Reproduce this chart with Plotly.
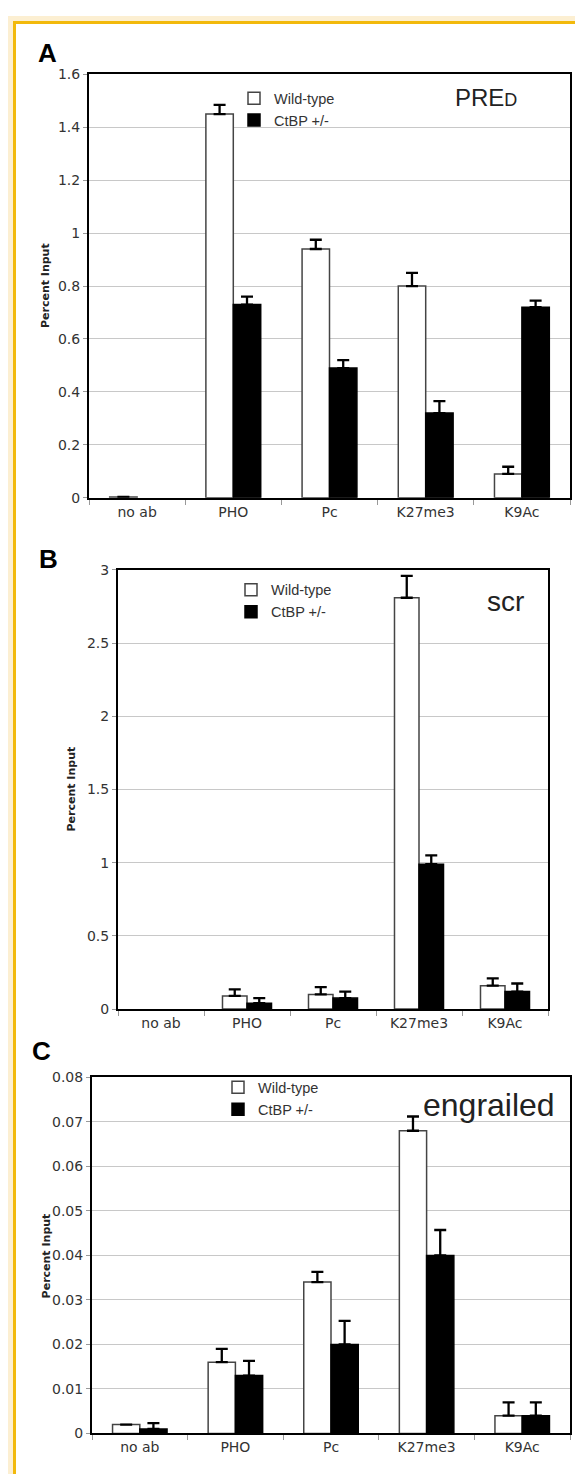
import plotly.graph_objects as go

W, H = 583, 1474

categories = ["no ab", "PHO", "Pc", "K27me3", "K9Ac"]
series_names = ["Wild-type", "CtBP +/-"]

# Panel A (PRE-D)
a_wt = [0.003, 1.45, 0.94, 0.80, 0.09]
a_wt_err = [0.0, 0.035, 0.035, 0.05, 0.027]
a_ctbp = [None, 0.73, 0.49, 0.32, 0.72]
a_ctbp_err = [0.0, 0.03, 0.03, 0.045, 0.025]

# Panel B (scr)
b_wt = [None, 0.09, 0.10, 2.81, 0.16]
b_wt_err = [0.0, 0.045, 0.05, 0.15, 0.05]
b_ctbp = [None, 0.04, 0.075, 0.99, 0.12]
b_ctbp_err = [0.0, 0.035, 0.045, 0.06, 0.055]

# Panel C (engrailed)
c_wt = [0.002, 0.016, 0.034, 0.068, 0.004]
c_wt_err = [0.0, 0.003, 0.0023, 0.0032, 0.003]
c_ctbp = [0.001, 0.013, 0.020, 0.040, 0.004]
c_ctbp_err = [0.0013, 0.0033, 0.0053, 0.0057, 0.003]

y_ranges = [[0, 1.6], [0, 3], [0, 0.08]]
y_dticks = [0.2, 0.5, 0.01]


def px_x(p):
    return p / W


def px_y(p):
    return 1 - p / H


# plot boxes in pixels: (left, right, top, bottom)
boxes = [(81, 562, 59, 487), (110, 540, 560, 1004), (84, 562, 1073, 1433)]

fig = go.Figure()

panels = [
    (a_wt, a_wt_err, a_ctbp, a_ctbp_err),
    (b_wt, b_wt_err, b_ctbp, b_ctbp_err),
    (c_wt, c_wt_err, c_ctbp, c_ctbp_err),
]
legend_ids = ["legend", "legend2", "legend3"]

for i, (wt, wte, kt, kte) in enumerate(panels):
    ax = "" if i == 0 else str(i + 1)
    fig.add_trace(go.Bar(
        x=categories, y=wt, name=series_names[0],
        marker=dict(color="white", line=dict(color="#444444", width=1.5)),
        error_y=dict(type="data", array=wte, arrayminus=[0] * len(wte), symmetric=False,
                     color="black", thickness=2.3, width=6),
        xaxis="x" + ax, yaxis="y" + ax, legend=legend_ids[i],
    ))
    fig.add_trace(go.Bar(
        x=categories, y=kt, name=series_names[1],
        marker=dict(color="black", line=dict(color="black", width=1.5)),
        error_y=dict(type="data", array=kte, arrayminus=[0] * len(kte), symmetric=False,
                     color="black", thickness=2.3, width=6),
        xaxis="x" + ax, yaxis="y" + ax, legend=legend_ids[i],
    ))

layout = dict(
    width=W, height=H,
    margin=dict(l=0, r=0, t=0, b=0),
    paper_bgcolor="white", plot_bgcolor="white",
    barmode="group", bargap=0.43, bargroupgap=0,
    font=dict(family="DejaVu Sans", color="#333333", size=14),
)

for i, (l, r, t, b) in enumerate(boxes):
    ax = "" if i == 0 else str(i + 1)
    layout["xaxis" + ax] = dict(
        domain=[px_x(l), px_x(r)], anchor="y" + ax,
        showline=True, linecolor="black", linewidth=2, mirror=True,
        ticks="outside", ticklen=5, tickcolor="#999999", tickson="boundaries",
        showgrid=False, tickfont=dict(family="DejaVu Sans", size=14, color="#333333"),
        fixedrange=True,
    )
    layout["yaxis" + ax] = dict(
        domain=[px_y(b), px_y(t)], anchor="x" + ax,
        range=y_ranges[i], dtick=y_dticks[i], tick0=0,
        showline=True, linecolor="black", linewidth=2, mirror=True,
        ticks="outside", ticklen=4, tickcolor="#999999",
        showgrid=True, gridcolor="#c8c8c8", gridwidth=1, zeroline=False,
        tickfont=dict(family="DejaVu Sans", size=14, color="#333333"),
        fixedrange=True,
    )

legend_pos = [(226, 67), (223, 564), (210, 1067)]
for i, (lx, ly) in enumerate(legend_pos):
    layout[legend_ids[i]] = dict(
        x=px_x(lx), y=px_y(ly), xanchor="left", yanchor="top",
        bgcolor="rgba(0,0,0,0)", borderwidth=0,
        font=dict(family="Liberation Sans", size=14.5, color="#333333"),
        tracegroupgap=0, traceorder="normal",
    )

fig.update_layout(**layout)

# background: cream margin with gold frame
fig.add_shape(type="rect", xref="paper", yref="paper", x0=0, x1=1, y0=0, y1=1,
              fillcolor="#FCEFD2", line=dict(width=0), layer="below")
fig.add_shape(type="rect", xref="paper", yref="paper",
              x0=px_x(6.5), x1=px_x(577.5), y0=-0.02, y1=px_y(6.5),
              fillcolor="white", line=dict(color="#F2B90C", width=3), layer="below")

annotations = []
# panel letters
for letter, (cx, cy) in zip(["A", "B", "C"], [(39, 37), (40, 549), (33, 1046)]):
    annotations.append(dict(text="<b>" + letter + "</b>", x=px_x(cx), y=px_y(cy),
                            xref="paper", yref="paper", showarrow=False,
                            xanchor="center", yanchor="middle",
                            font=dict(family="Liberation Sans", size=26, color="black")))
# gene labels
gene_labels = ["PRE<span style='font-size:18px'>D</span>", "scr", "engrailed"]
gene_pos = [(478, 82, 24), (497, 592, 28), (481, 1101, 32)]
for txt, (cx, cy, fs) in zip(gene_labels, gene_pos):
    annotations.append(dict(text=txt, x=px_x(cx), y=px_y(cy), xref="paper", yref="paper",
                            showarrow=False, xanchor="center", yanchor="middle",
                            font=dict(family="Liberation Sans", size=fs, color="#222222")))
# y-axis titles
for cx, cy in [(37, 273), (64, 782), (38, 1254)]:
    annotations.append(dict(text="<b>Percent Input</b>", x=px_x(cx), y=px_y(cy),
                            xref="paper", yref="paper", showarrow=False, textangle=-90,
                            xanchor="center", yanchor="middle",
                            font=dict(family="DejaVu Sans", size=11, color="#222222")))

fig.update_layout(annotations=annotations)

fig.write_html("out.html")
